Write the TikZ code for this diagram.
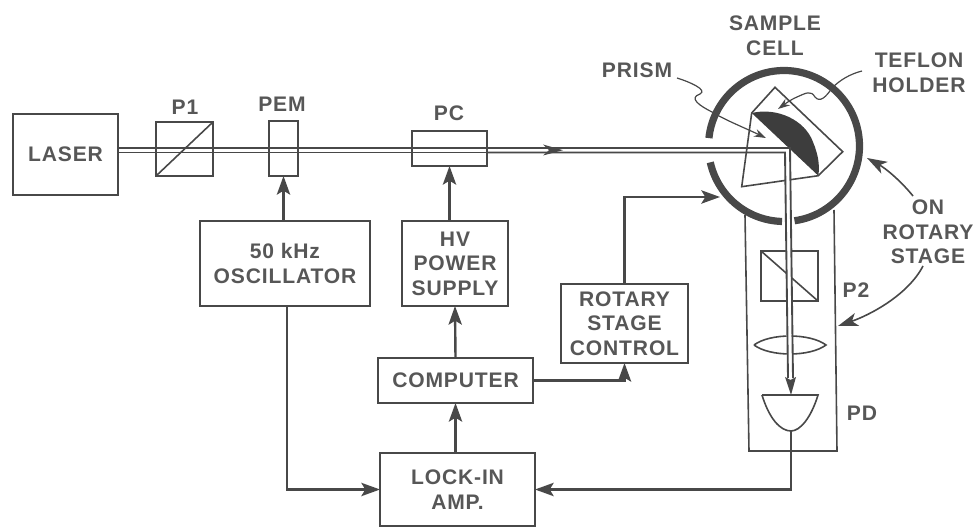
\documentclass[tikz,border=0pt]{standalone}
\usepackage{fontspec}
\setmainfont{Liberation Sans}[LetterSpace=4,BoldFont={Liberation Sans Bold}]
\usetikzlibrary{arrows.meta,calc}
\definecolor{ink}{HTML}{484848}
\tikzset{
  every node/.style={font=\fontsize{15.8}{18.4}\selectfont\bfseries,text=ink!92!white,align=center,inner sep=0pt,outer sep=0pt},
  sz/.style 2 args={minimum width=#1*.75pt,minimum height=#2*.75pt},
  box/.style={draw=ink,line width=1.5pt},
  part/.style={draw=ink,line width=1.2pt},
  beam/.style={draw=ink,line width=1pt},
  wire/.style={draw=ink,line width=1.8pt},
  arr/.style={wire,-{Stealth[length=14pt,width=10pt,inset=3pt]}},
  tarr/.style={draw=ink,line width=1.2pt,-{Stealth[length=15pt,width=10pt,inset=4pt]}},
  lead/.style={draw=ink,line width=.9pt,-{Stealth[length=9pt,width=6pt]}},
  ringp/.style={draw=ink,line width=5.4pt}
}
\begin{document}
\begin{tikzpicture}[x=.75pt,y=-.75pt]
\useasboundingbox (0,0) rectangle (979,527);
% beam levels
\coordinate (bu) at (0,148);
\coordinate (bl) at (0,152.5);
% boxes
\node[box,sz={105}{81}] (laser) at (65.5,154.5) {LASER};
\node[part,sz={57}{54}] (p1) at (184.5,149) {};
\node[part,sz={29}{55}] (pem) at (283.5,148.5) {};
\node[part,sz={75}{35}] (pc) at (449.5,148.5) {};
\node[box,sz={170}{85}] (osc) at (285,263.5) {50 kHz\\OSCILLATOR};
\node[box,sz={106}{85}] (hv) at (455,263.5) {HV\\POWER\\SUPPLY};
\node[box,sz={155}{45}] (comp) at (455.5,380.5) {COMPUTER};
\node[box,sz={155}{73}] (lock) at (457.5,489.5) {LOCK-IN\\AMP.};
\node[box,sz={127}{79}] (rot) at (624.5,323.5) {ROTARY\\STAGE\\CONTROL};
% labels
\node (lp1) at (185,107) {P1};
\node (lpem) at (282,104) {PEM};
\node (lpc) at (449,113) {PC};
\node (lcell) at (775,35.5) {SAMPLE\\CELL};
\node (lprism) at (637,70) {PRISM};
\node (lteflon) at (919,72.5) {TEFLON\\HOLDER};
\node (lon) at (928,232) {ON\\ROTARY\\STAGE};
\node (lp2) at (856,290) {P2};
\node (lpd) at (862,413) {PD};
% polariser diagonals
\draw[part] (p1.south west) -- (p1.north east);
% rotary stage frame
\draw[part] (745,215) -- (749,451) -- (837,451) -- (834,210);
% P2
\node[part,sz={57}{50}] (p2) at (789.5,276) {};
\draw[part] (p2.north west) -- (p2.south east);
% lens
\draw[part] (754,345) .. controls (770,333) and (810,333) .. (826,345) .. controls (810,357) and (770,357) .. (754,345);
% detector
\coordinate (pdt) at (791,395);
\coordinate (pdb) at (791,431);
\draw[part] (762,395) -- (818,395) .. controls (811,418) and (800,431) .. (pdb) .. controls (780,431) and (769,418) .. (762,395);
% beam segments
\draw[beam] (laser.east |- bu) -- (p1.west |- bu);
\draw[beam] (laser.east |- bl) -- (p1.west |- bl);
\draw[beam] (p1.west |- bu) -- (p1.east |- bu);
\draw[beam] (p1.west |- bl) -- (p1.east |- bl);
\draw[beam] (p1.east |- bu) -- (pem.west |- bu);
\draw[beam] (p1.east |- bl) -- (pem.west |- bl);
\draw[beam] (pem.west |- bu) -- (pem.east |- bu);
\draw[beam] (pem.west |- bl) -- (pem.east |- bl);
\draw[beam] (pem.east |- bu) -- (pc.west |- bu);
\draw[beam] (pem.east |- bl) -- (pc.west |- bl);
\draw[beam] (pc.west |- bu) -- (pc.east |- bu);
\draw[beam] (pc.west |- bl) -- (pc.east |- bl);
% sample cell
\coordinate (cc) at (784,146);
\draw[ringp] (cc) ++(82:75.5) arc[start angle=82,end angle=-174,radius=75.5];
\draw[ringp] (cc) ++(167.5:75.5) arc[start angle=167.5,end angle=91.5,radius=75.5];
\coordinate (pa) at (751.7,113);
\coordinate (pb) at (741.7,186.7);
\coordinate (pc2) at (818.3,175.7);
\coordinate (hd) at (775,87.3);
\coordinate (he) at (842.7,151.7);
\fill[ink!85!black] (pa) .. controls (777,107) and (805,120) .. (813,142) .. controls (818,154) and (820,165) .. (pc2) -- cycle;
\draw[part] (pa) -- (pb) -- (pc2) -- (he) -- (hd) -- cycle;
% beam to detector
\fill[white] (785,152.5) -- (790,152.5) -- (792,378) -- (787,378) -- cycle;
\draw[beam,line width=1.4pt] (pc.east |- bu) -- (790,148) -- (793,378);
\draw[beam,line width=1.4pt] (pc.east |- bl) -- (785,152.5) -- (788,378);
\fill[ink] (785,377) -- (790.5,380) -- (796,377) -- (791,395) -- cycle;
\fill[ink] (543,144.5) -- (549,150.2) -- (543,155.5) -- (563,150.2) -- cycle;
% wires
\draw[arr] (osc.north -| pem.south) -- (pem.south);
\draw[arr] (hv.north -| pc.south) -- (pc.south);
\draw[arr] (comp.north) -- (hv.south);
\draw[arr] (lock.north -| comp.south) -- (comp.south);
\draw[arr] (osc.south -| 287,0) |- (lock.west);
\draw[arr] (comp.east) -| (rot.south);
\coordinate (ringw) at (720,197);
\draw[arr] (rot.north) |- (ringw);
\draw[arr] (pdb) |- (lock.east);
% leaders
\coordinate (prtip) at (766,138);
\coordinate (tftip) at (778,109);
\draw[lead] (lprism.east) ++(5,8) .. controls (690,82) and (708,90) .. (700,94) .. controls (688,98) and (700,106) .. (712,112) .. controls (725,120) and (745,128) .. (prtip);
\draw[lead] (862,71) .. controls (850,74) and (840,80) .. (832,88) .. controls (826,97) and (820,103) .. (815,97) .. controls (811,90) and (806,93) .. (797,97) .. controls (790,100) and (785,104) .. (tftip);
\coordinate (ontip) at (867,158);
\coordinate (stagetip) at (838,326);
\draw[tarr] (913,196) .. controls (900,180) and (885,168) .. (ontip);
\draw[tarr] (923,266) .. controls (908,295) and (870,315) .. (stagetip);
\end{tikzpicture}
\end{document}
